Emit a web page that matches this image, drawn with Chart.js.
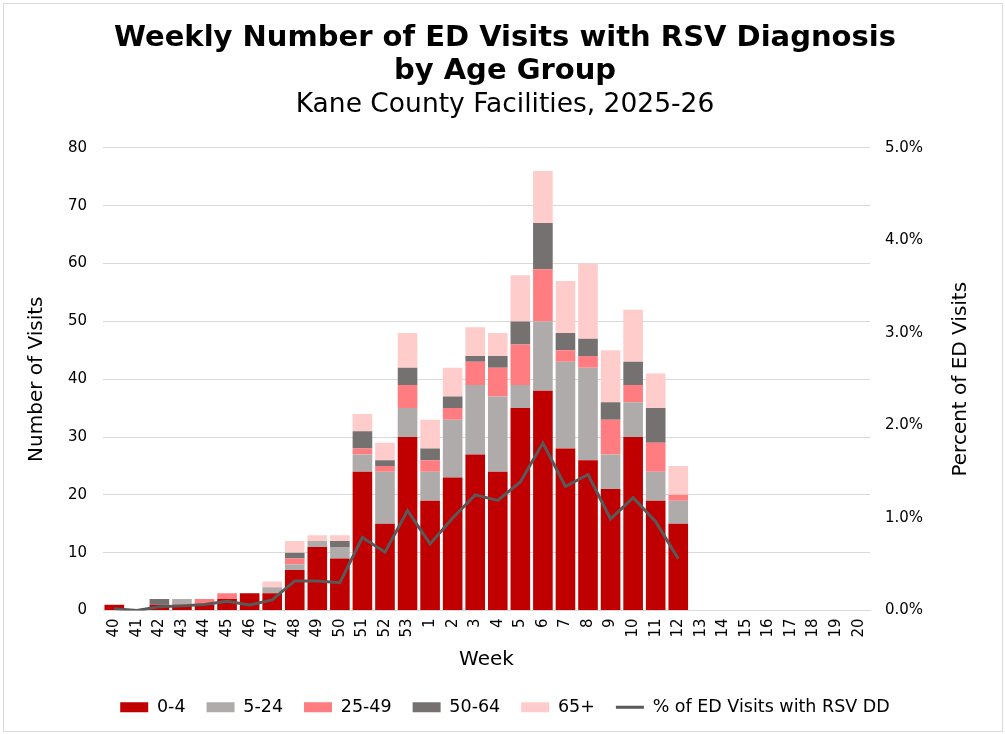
<!DOCTYPE html>
<html>
<head>
<meta charset="utf-8">
<script src="https://cdn.jsdelivr.net/npm/chart.js@4"></script>
<style>
html,body{margin:0;padding:0;background:#fff;}
#wrap{position:relative;width:1005px;height:734px;}
</style>
</head>
<body>
<div id="wrap"><canvas id="c" width="1005" height="734"></canvas></div>
<script>
const weeks = ['40','41','42','43','44','45','46','47','48','49','50','51','52','53','1','2','3','4','5','6','7','8','9','10','11','12','13','14','15','16','17','18','19','20'];
const age0_4   = [1,0,1,1,1,2,3,3,7,11,9,24,15,30,19,23,27,24,35,38,28,26,21,30,19,15,0,0,0,0,0,0,0,0];
const age5_24  = [0,0,0,1,0,0,0,1,1,1,2,3,9,5,5,10,12,13,4,12,15,16,6,6,5,4,0,0,0,0,0,0,0,0];
const age25_49 = [0,0,0,0,1,1,0,0,1,0,0,1,1,4,2,2,4,5,7,9,2,2,6,3,5,1,0,0,0,0,0,0,0,0];
const age50_64 = [0,0,1,0,0,0,0,0,1,0,1,3,1,3,2,2,1,2,4,8,3,3,3,4,6,0,0,0,0,0,0,0,0,0];
const age65p   = [0,0,0,0,0,0,0,1,2,1,1,3,3,6,5,5,5,4,8,9,9,13,9,9,6,5,0,0,0,0,0,0,0,0];
const pctRSV   = [0.02,0.0,0.04,0.05,0.065,0.10,0.06,0.115,0.32,0.32,0.30,0.79,0.63,1.08,0.72,1.0,1.25,1.19,1.39,1.81,1.34,1.47,0.99,1.22,0.96,0.56,null,null,null,null,null,null,null,null];
const rightTitle = 'Percent of ED Visits';

const FONT = 'DejaVu Sans, Verdana, sans-serif';

const framePlugin = {
  id: 'frame',
  beforeDraw(chart) {
    const ctx = chart.ctx;
    ctx.save();
    ctx.fillStyle = '#fff';
    ctx.fillRect(0, 0, chart.width, chart.height);
    ctx.strokeStyle = '#d9d9d9';
    ctx.lineWidth = 1;
    ctx.strokeRect(3.5, 3.5, chart.width - 6, chart.height - 6);
    ctx.restore();
  },
  afterDraw(chart) {
    const s = chart.scales.y1;
    const ctx = chart.ctx;
    ctx.save();
    ctx.translate(s.right - 18, (chart.chartArea.top + chart.chartArea.bottom) / 2);
    ctx.rotate(-Math.PI / 2);
    ctx.fillStyle = '#000';
    ctx.font = '20px ' + FONT;
    ctx.textAlign = 'center';
    ctx.textBaseline = 'middle';
    ctx.fillText(rightTitle, 0, 0);
    ctx.restore();
  }
};

function barDs(label, data, color) {
  return { type: 'bar', label, data, backgroundColor: color, borderWidth: 0,
    yAxisID: 'y', stack: 's', categoryPercentage: 1.0, barPercentage: 0.87,
    pointStyle: 'rect', order: 2 };
}

new Chart(document.getElementById('c'), {
  type: 'bar',
  data: {
    labels: weeks,
    datasets: [
      barDs('0-4', age0_4, '#C00000'),
      barDs('5-24', age5_24, '#AFABAB'),
      barDs('25-49', age25_49, '#FF7C80'),
      barDs('50-64', age50_64, '#767171'),
      barDs('65+', age65p, '#FFCCCC'),
      { type: 'line', label: '% of ED Visits with RSV DD', data: pctRSV, yAxisID: 'y1',
        borderColor: '#595959', backgroundColor: '#595959', borderWidth: 3,
        pointRadius: 0, pointHoverRadius: 0, tension: 0, pointStyle: 'line', order: 1, spanGaps: false }
    ]
  },
  options: {
    responsive: false,
    animation: false,
    devicePixelRatio: 1,
    layout: { padding: { left: 31, right: 26, top: 14, bottom: 8 } },
    plugins: {
      title: {
        display: true,
        text: ['Weekly Number of ED Visits with RSV Diagnosis', 'by Age Group'],
        color: '#000',
        font: { family: FONT, size: 29, weight: 'bold', lineHeight: 1.14 },
        padding: { top: 8, bottom: 0 }
      },
      subtitle: {
        display: true,
        text: 'Kane County Facilities, 2025-26',
        color: '#000',
        font: { family: FONT, size: 26.5, weight: 'normal', lineHeight: 1.2 },
        padding: { top: 1, bottom: 27 }
      },
      legend: {
        position: 'bottom',
        labels: {
          usePointStyle: true,
          pointStyleWidth: 28,
          boxHeight: 10,
          boxWidth: 28,
          padding: 21,
          color: '#000',
          font: { family: FONT, size: 17.5 },
          sort: (a, b) => a.datasetIndex - b.datasetIndex
        }
      },
      tooltip: { enabled: false }
    },
    scales: {
      x: {
        stacked: true,
        grid: { display: false, drawTicks: false },
        border: { display: true, color: '#d9d9d9', width: 1 },
        ticks: { color: '#000', font: { family: FONT, size: 15 }, maxRotation: 90, minRotation: 90, autoSkip: false, padding: 8 },
        title: { display: true, text: 'Week', color: '#000', font: { family: FONT, size: 20 }, padding: { top: 6, bottom: 6 } },
        afterFit: s => { s.height = 67; }
      },
      y: {
        stacked: true,
        position: 'left',
        min: 0, max: 80,
        ticks: { stepSize: 10, color: '#000', font: { family: FONT, size: 15 }, padding: 16 },
        grid: { color: '#d9d9d9', drawTicks: false },
        border: { display: false },
        title: { display: true, text: 'Number of Visits', color: '#000', font: { family: FONT, size: 20 }, padding: { top: -6, bottom: 19 } },
        afterFit: s => { s.width = 72; }
      },
      y1: {
        position: 'right',
        min: 0, max: 5,
        ticks: { stepSize: 1, color: '#000', font: { family: FONT, size: 15 }, padding: 15,
          callback: v => v.toFixed(1) + '%' },
        grid: { display: false, drawTicks: false },
        border: { display: false },
        title: { display: true, text: rightTitle, color: 'rgba(0,0,0,0)', font: { family: FONT, size: 20 }, padding: { top: 0, bottom: 26 } },
        afterFit: s => { s.width = 109; }
      }
    }
  },
  plugins: [framePlugin]
});
</script>
</body>
</html>
